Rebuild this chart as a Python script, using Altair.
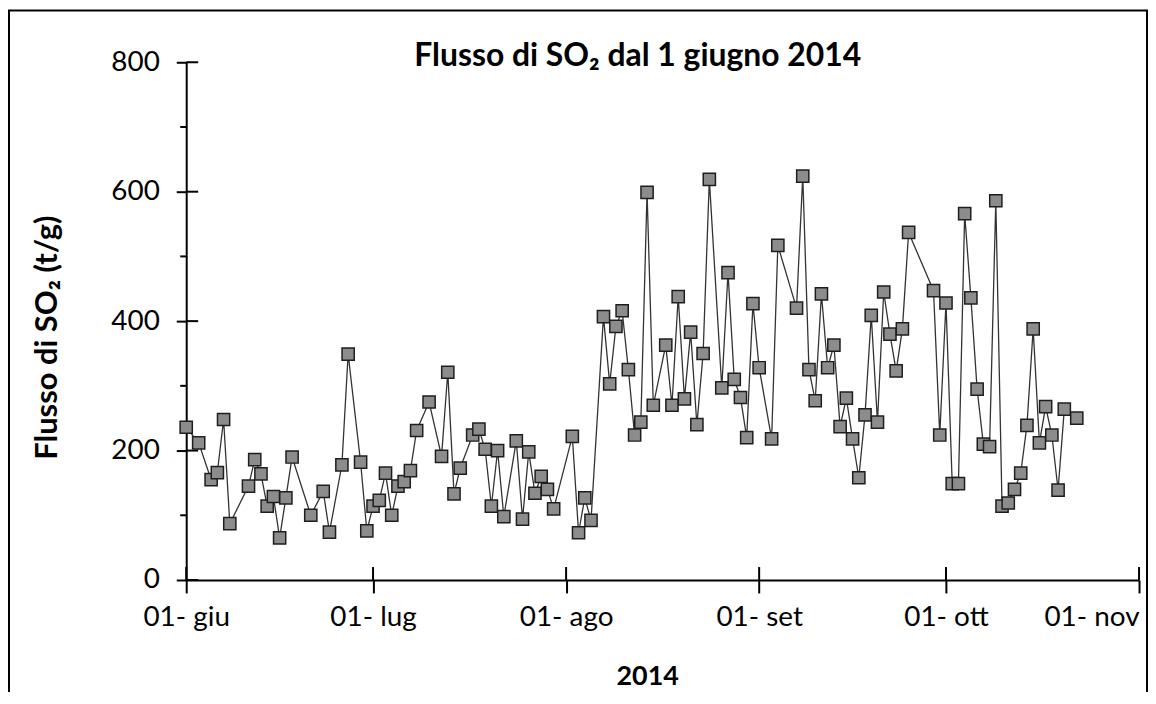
import altair as alt
import pandas as pd

# ---- data ----
dates = [
    "2014-06-01", "2014-06-03", "2014-06-05", "2014-06-06", "2014-06-07", "2014-06-08",
    "2014-06-11", "2014-06-12", "2014-06-13", "2014-06-14", "2014-06-15", "2014-06-16",
    "2014-06-17", "2014-06-18", "2014-06-21", "2014-06-23", "2014-06-24", "2014-06-26",
    "2014-06-27", "2014-06-29", "2014-06-30",
    "2014-07-01", "2014-07-02", "2014-07-03", "2014-07-04", "2014-07-05", "2014-07-06",
    "2014-07-07", "2014-07-08", "2014-07-10", "2014-07-12", "2014-07-13", "2014-07-14",
    "2014-07-15", "2014-07-17", "2014-07-18", "2014-07-19", "2014-07-20", "2014-07-21",
    "2014-07-22", "2014-07-24", "2014-07-25", "2014-07-26", "2014-07-27", "2014-07-28",
    "2014-07-29", "2014-07-30",
    "2014-08-02", "2014-08-03", "2014-08-04", "2014-08-05", "2014-08-07", "2014-08-08",
    "2014-08-09", "2014-08-10", "2014-08-11", "2014-08-12", "2014-08-13", "2014-08-14",
    "2014-08-15", "2014-08-17", "2014-08-18", "2014-08-19", "2014-08-20", "2014-08-21",
    "2014-08-22", "2014-08-23", "2014-08-24", "2014-08-26", "2014-08-27", "2014-08-28",
    "2014-08-29", "2014-08-30", "2014-08-31",
    "2014-09-01", "2014-09-03", "2014-09-04", "2014-09-07", "2014-09-08", "2014-09-09",
    "2014-09-10", "2014-09-11", "2014-09-12", "2014-09-13", "2014-09-14", "2014-09-15",
    "2014-09-16", "2014-09-17", "2014-09-18", "2014-09-19", "2014-09-20", "2014-09-21",
    "2014-09-22", "2014-09-23", "2014-09-24", "2014-09-25", "2014-09-29", "2014-09-30",
    "2014-10-01", "2014-10-02", "2014-10-03", "2014-10-04", "2014-10-05", "2014-10-06",
    "2014-10-07", "2014-10-08", "2014-10-09", "2014-10-10", "2014-10-11", "2014-10-12",
    "2014-10-13", "2014-10-14", "2014-10-15", "2014-10-16", "2014-10-17", "2014-10-18",
    "2014-10-19", "2014-10-20", "2014-10-22",
]
values = [
    236, 212, 155, 166, 248, 87,
    145, 186, 164, 114, 129, 65,
    127, 190, 100, 137, 74, 178,
    349, 182, 76,
    114, 123, 165, 100, 145, 152,
    169, 231, 275, 191, 321, 133,
    173, 224, 233, 202, 114, 200,
    98, 215, 94, 198, 134, 160,
    140, 110,
    222, 73, 127, 92, 407, 303,
    392, 416, 325, 224, 244, 599,
    270, 363, 270, 438, 280, 383,
    240, 350, 619, 297, 475, 310,
    282, 220, 427,
    328, 218, 517, 420, 624, 325,
    277, 442, 328, 363, 237, 281,
    218, 158, 255, 409, 244, 445,
    380, 323, 388, 537, 447, 224,
    428, 149, 149, 566, 436, 295,
    210, 206, 586, 114, 119, 140,
    165, 239, 388, 212, 268, 224,
    139, 264, 250,
]

y_major = [0, 200, 400, 600, 800]
y_minor = [100, 300, 500, 700]
month_starts = ["2014-06-01", "2014-07-01", "2014-08-01", "2014-09-01", "2014-10-01", "2014-11-01"]
x_labels = ["01- giu", "01- lug", "01- ago", "01- set", "01- ott", "01- nov"]

TITLE = "Flusso di SO₂ dal 1 giugno 2014"
Y_TITLE = "Flusso di SO₂ (t/g)"
X_TITLE = "2014"

# ---- tables ----
df = pd.DataFrame({"data": dates, "flusso": values})
xt = pd.DataFrame({"data": month_starts})
yt = pd.DataFrame({"flusso": y_major})
ym = pd.DataFrame({"flusso": y_minor})
frame_df = pd.DataFrame({"k": [0]})

FONT = "Lato"
W, H = 957, 520


def dt(s):
    t = pd.Timestamp(s)
    return alt.DateTime(year=t.year, month=t.month, date=t.day, utc=True)


label_expr = "[" + ",".join("'%s'" % l for l in x_labels) + "][utcmonth(datum.value) - 5]"

x_enc = alt.X(
    "data:T",
    scale=alt.Scale(type="utc", domain=[dt(month_starts[0]), dt(month_starts[-1])]),
    axis=alt.Axis(
        values=[dt(m) for m in month_starts],
        labelExpr=label_expr,
        labelAngle=0,
        labelFont=FONT, labelFontSize=28, labelColor="black",
        labelBaseline="middle", labelPadding=25,
        labelAlign={"condition": {"test": "utcmonth(datum.value) == 10", "value": "right"}, "value": "center"},
        tickSize=13, tickWidth=2, tickColor="black",
        domainWidth=2, domainColor="black",
        grid=False,
        title=X_TITLE, titleFont=FONT, titleFontSize=27, titleFontWeight="bold", titleColor="black",
        titleX=463, titleY=97, titleAlign="center", titleBaseline="middle",
    ),
)

y_enc = alt.Y(
    "flusso:Q",
    scale=alt.Scale(domain=[0, 800], nice=False, zero=True),
    axis=alt.Axis(
        values=y_major,
        labelFont=FONT, labelFontSize=28, labelColor="black", labelPadding=17,
        tickSize=10, tickWidth=2, tickColor="black",
        domainWidth=2, domainColor="black",
        grid=False,
        title=Y_TITLE, titleFont=FONT, titleFontSize=31, titleFontWeight="bold", titleColor="black",
        titleAngle=-90, titleX=-139, titleY=276, titleAlign="center", titleBaseline="middle",
    ),
)

frame = alt.Chart(frame_df).mark_rect(filled=False, stroke="black", strokeWidth=2).encode(
    x=alt.value(-178), x2=alt.value(965), y=alt.value(-52), y2=alt.value(H + 160)
)

line = alt.Chart(df).mark_line(color="#333333", strokeWidth=1.3).encode(x=x_enc, y=y_enc)

pts = alt.Chart(df).mark_point(
    shape="square", filled=True, fill="#8c8c8c", stroke="#1e1e1e", strokeWidth=1.5,
    size=150, opacity=1,
).encode(x=x_enc, y=y_enc)

x_in = alt.Chart(xt).mark_rule(color="black", strokeWidth=2).encode(
    x=x_enc, y=alt.value(H - 13), y2=alt.value(H)
)
y_in = alt.Chart(yt).mark_rule(color="black", strokeWidth=2).encode(
    y=y_enc, x=alt.value(0), x2=alt.value(12)
)
y_min = alt.Chart(ym).mark_rule(color="black", strokeWidth=2).encode(
    y=y_enc, x=alt.value(-6), x2=alt.value(0)
)

chart = alt.layer(frame, x_in, y_in, y_min, line, pts).properties(
    width=W,
    height=H,
    autosize=alt.AutoSizeParams(type="none"),
    padding={"left": 179, "top": 53, "right": 9, "bottom": 111},
    background="white",
    title=alt.TitleParams(
        text=TITLE, font=FONT, fontSize=32, fontWeight="bold", color="black",
        anchor="middle", dx=-25, dy=68,
    ),
).configure_view(stroke=None)

chart.save("out.html", embed_options={"renderer": "svg", "actions": False})
